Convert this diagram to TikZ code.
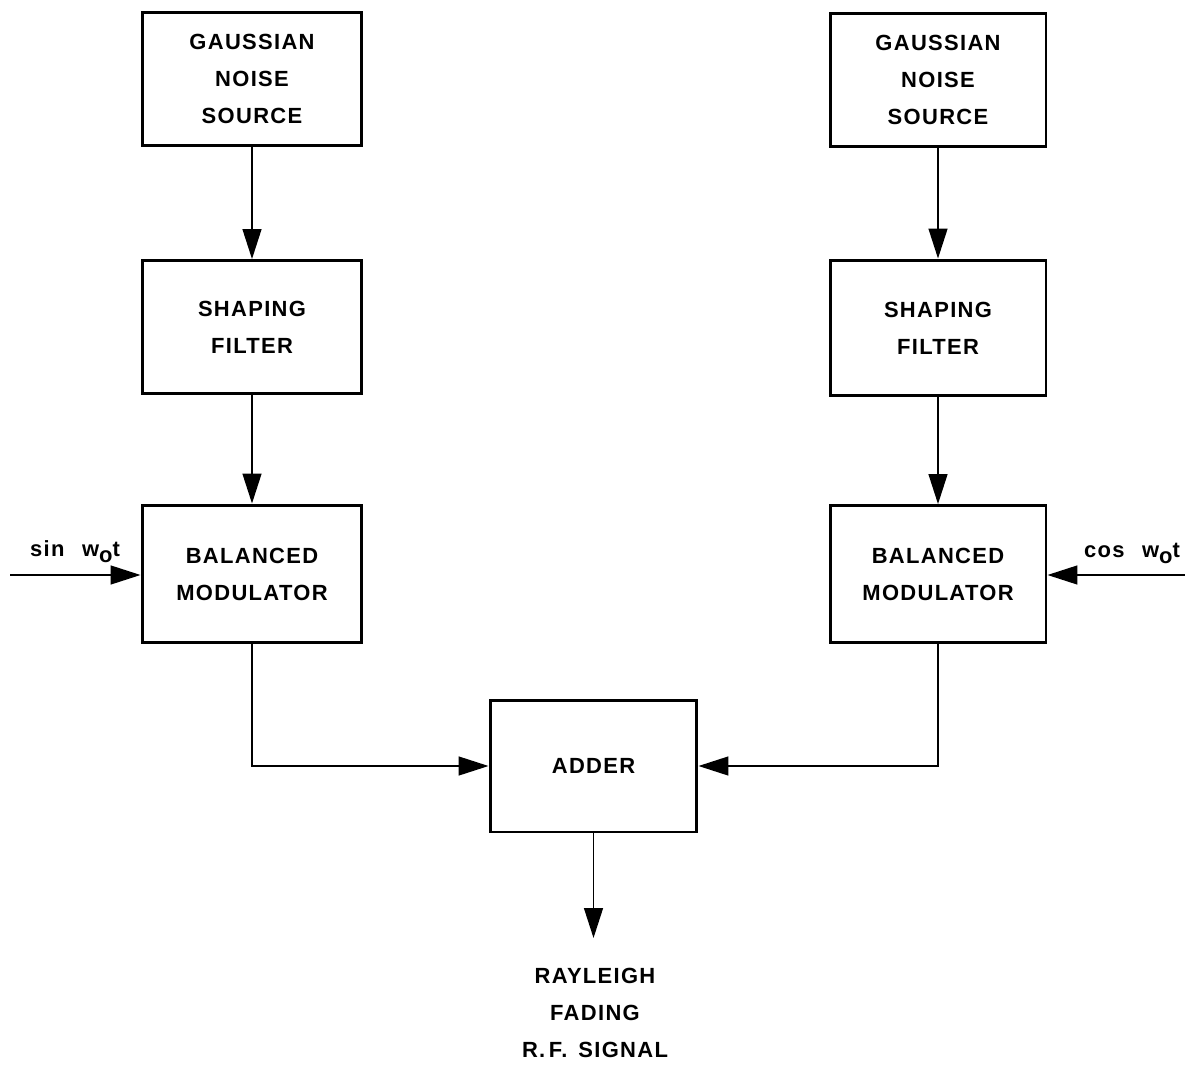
\documentclass[tikz,border=0pt]{standalone}
\usepackage{fontspec}
\setmainfont{Liberation Sans}[LetterSpace=6]
\usetikzlibrary{arrows.meta}
\tikzset{
  blk/.style={draw, line width=1.7pt, minimum width=4.4cm, minimum height=2.66cm, align=center,
    font=\fontsize{12.5}{21}\selectfont\bfseries, inner sep=0pt},
  lbl/.style={align=center, font=\fontsize{12.5}{21}\selectfont\bfseries, inner sep=0pt},
  conn/.style={line width=0.8pt, -{Triangle[length=0.6cm, width=0.38cm]}},
  wire/.style={line width=0.8pt}
}
\begin{document}
\begin{tikzpicture}[x=0.02cm, y=-0.02cm]
\useasboundingbox (0,0) rectangle (1185,1070);
% left chain
\node[blk] (g1) at (252,79) {GAUSSIAN\\NOISE\\SOURCE};
\node[blk] (f1) at (252,327) {SHAPING\\FILTER};
\node[blk, minimum height=2.76cm] (m1) at (252,574) {BALANCED\\MODULATOR};
% right chain
\node[blk, minimum width=4.32cm] (g2) at (938,80) {GAUSSIAN\\NOISE\\SOURCE};
\node[blk, minimum width=4.32cm, minimum height=2.72cm] (f2) at (938,328) {SHAPING\\FILTER};
\node[blk, minimum width=4.32cm, minimum height=2.74cm] (m2) at (938,574) {BALANCED\\MODULATOR};
% adder
\node[blk, minimum width=4.14cm, minimum height=2.64cm] (ad) at (593.5,766) {ADDER};
% inputs
\coordinate (sinin) at (10,575);
\coordinate (cosin) at (1185,575);
\node[lbl, anchor=base] (sinl) at (75,556) {sin\hspace{0.8em}w\raisebox{-0.6ex}{o}t};
\node[lbl, anchor=base] (cosl) at (1132,557) {cos\hspace{0.8em}w\raisebox{-0.6ex}{o}t};
% output
\coordinate (outtip) at (ad.south |- 0,938);
\node[lbl, anchor=north] (out) at (595,968) {RAYLEIGH\\FADING\\R.\,F.\hspace{0.5em}SIGNAL};
% connectors
\draw[conn] (g1) -- (f1);
\draw[conn] (f1) -- (m1);
\draw[conn] (g2) -- (f2);
\draw[conn] (f2) -- (m2);
\draw[conn] (sinin) -- (m1.west |- sinin);
\draw[conn] (cosin) -- (m2.east |- cosin);
\draw[conn] (m1.south) |- (ad.west);
\draw[conn] (m2.south) |- (ad.east);
\draw[conn] (ad.south) -- (outtip);
\end{tikzpicture}
\end{document}
